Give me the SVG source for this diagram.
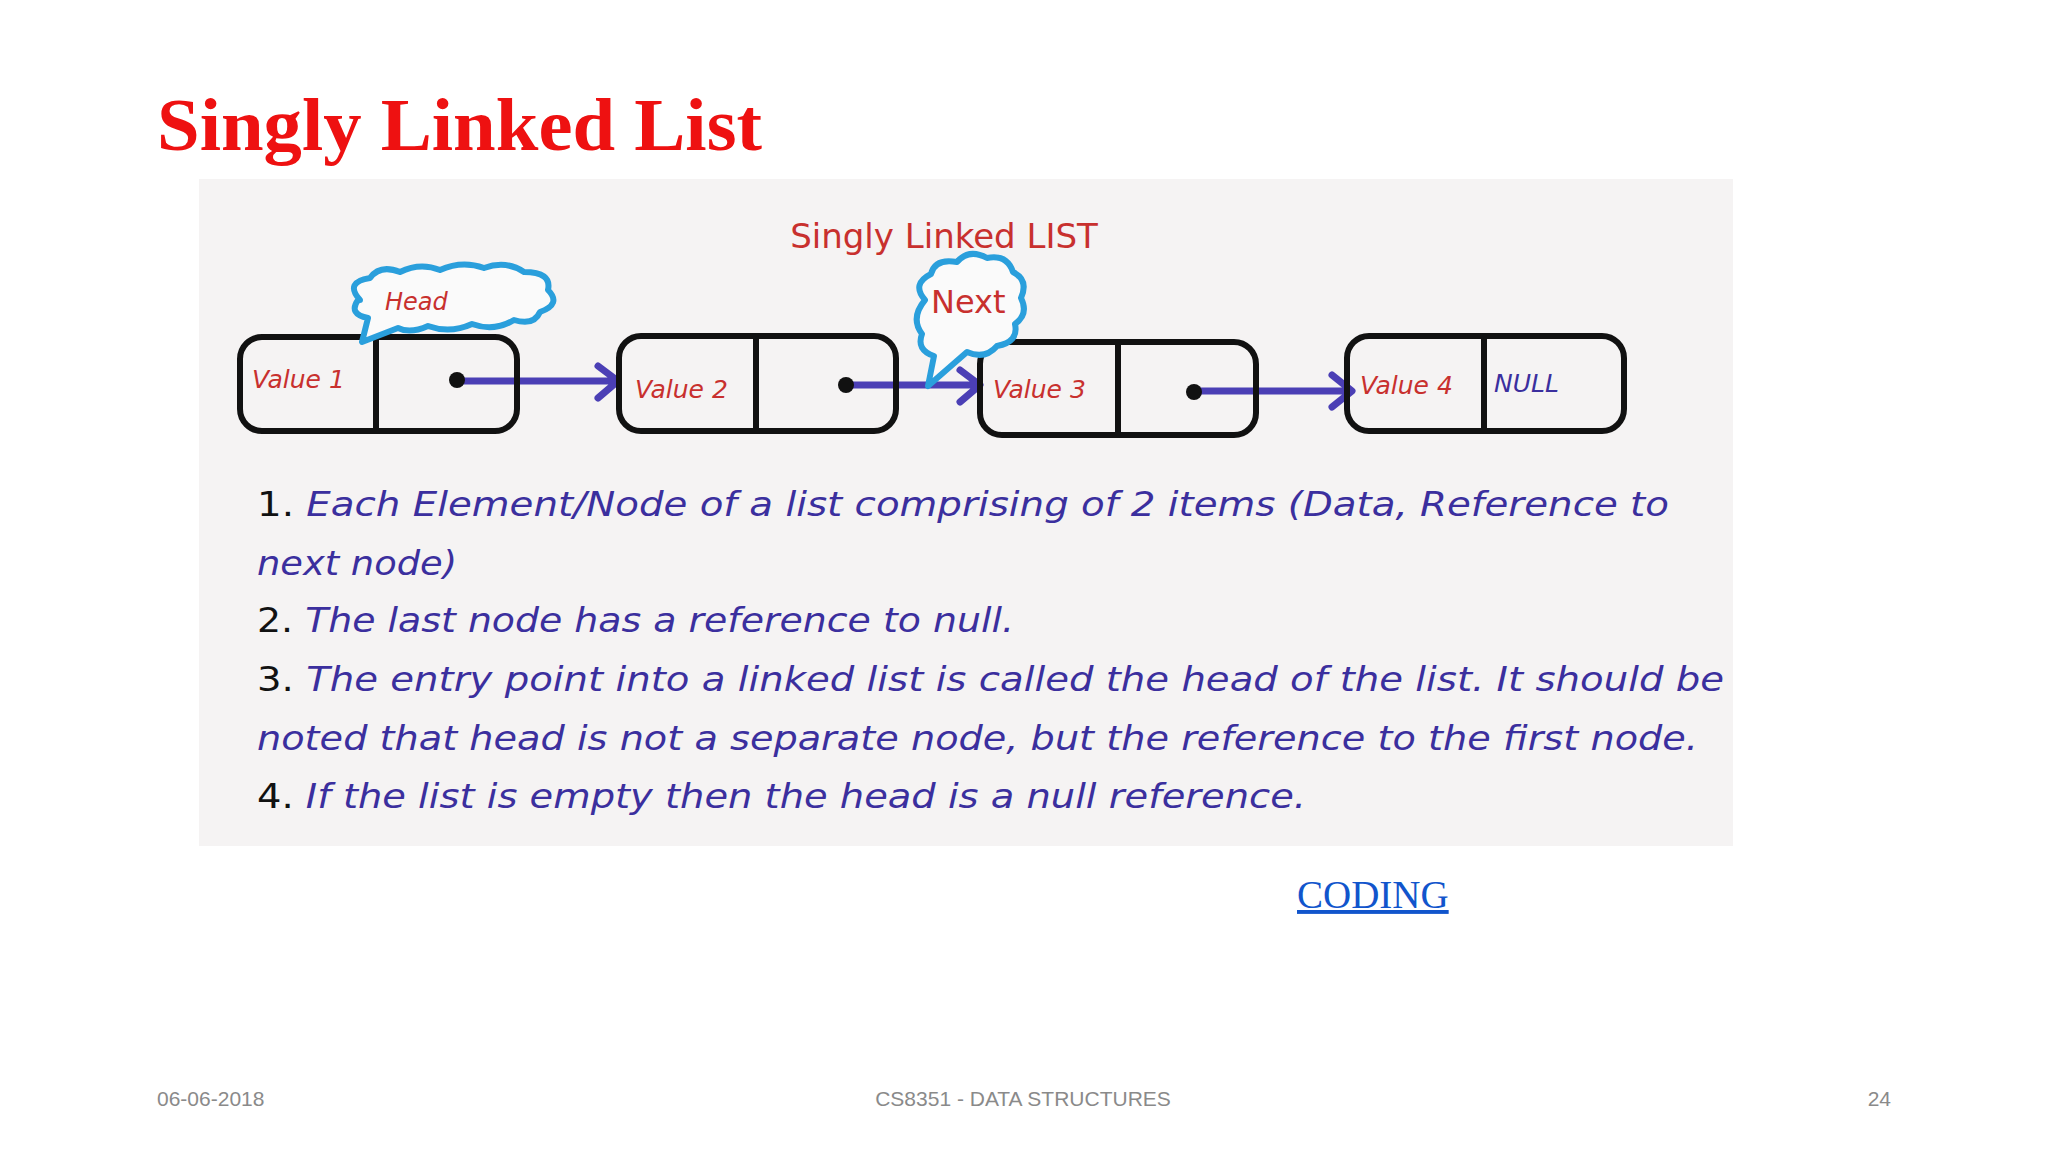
<svg xmlns="http://www.w3.org/2000/svg" width="2048" height="1152" viewBox="0 0 2048 1152">
<defs>
<style>
.box{fill:none;stroke:#111;stroke-width:6}
.val{font-family:"DejaVu Sans",sans-serif;font-style:italic;font-size:25px;fill:#c8302e}
.body{font-family:"DejaVu Sans",sans-serif;font-style:italic;font-size:34px;fill:#3b2f9e}
.num{fill:#111;font-style:normal}
.arr{stroke:#4b3fb5;stroke-width:7;fill:none;stroke-linecap:round;stroke-linejoin:round}
.cloud{fill:#fafafa;stroke:#2a9fdc;stroke-width:6;stroke-linejoin:round}
.foot{font-family:"Liberation Sans",sans-serif;font-size:21px;fill:#8a8a8a}
</style>
</defs>
<rect width="2048" height="1152" fill="#ffffff"/>
<text x="157" y="150" font-family="Liberation Serif,serif" font-weight="bold" font-size="73" fill="#ee1111" textLength="605" lengthAdjust="spacingAndGlyphs">Singly Linked List</text>
<rect x="199" y="179" width="1534" height="667" fill="#f5f3f3"/>
<text x="944" y="248" text-anchor="middle" font-family="DejaVu Sans,sans-serif" font-size="34" fill="#c8302e">Singly Linked LIST</text>

<g id="connectors">
<path class="arr" d="M460 381 H616 M598 366 L618 381 L598 398"/>
<path class="arr" d="M849 385 H978 M960 370 L980 385 L960 402"/>
<path class="arr" d="M1197 391 H1350 M1332 375 L1352 391 L1332 407"/>
</g>

<g id="node1">
<rect class="box" x="240" y="337" width="277" height="94" rx="22"/>
<line class="box" x1="376" y1="337" x2="376" y2="431"/>
<text class="val" x="252" y="388">Value 1</text>
<circle cx="457" cy="380" r="8" fill="#111"/>
</g>
<g id="node2">
<rect class="box" x="619" y="336" width="277" height="95" rx="22"/>
<line class="box" x1="756" y1="336" x2="756" y2="431"/>
<text class="val" x="635" y="398">Value 2</text>
<circle cx="846" cy="385" r="8" fill="#111"/>
</g>
<g id="node3">
<rect class="box" x="980" y="342" width="276" height="93" rx="22"/>
<line class="box" x1="1118" y1="342" x2="1118" y2="435"/>
<text class="val" x="993" y="398">Value 3</text>
<circle cx="1194" cy="392" r="8" fill="#111"/>
</g>
<g id="node4">
<rect class="box" x="1347" y="336" width="277" height="95" rx="22"/>
<line class="box" x1="1484" y1="336" x2="1484" y2="431"/>
<text class="val" x="1360" y="394">Value 4</text>
<text class="val" x="1494" y="392" style="fill:#3b2f9e">NULL</text>
</g>

<g id="head">
<path class="cloud" d="M360 300 q-16 -18 10 -22 q10 -14 30 -6 q20 -10 40 -2 q22 -10 44 -2 q22 -8 40 4 q28 0 24 18 q14 14 -8 22 q-6 14 -26 8 q-20 12 -42 4 q-22 10 -44 2 q-18 8 -30 2 L362 342 L368 318 q-20 -4 -10 -18 z"/>
<text x="385" y="310" font-family="DejaVu Sans,sans-serif" font-style="italic" font-size="24" fill="#c8302e">Head</text>
</g>
<g id="next">
<path class="cloud" d="M925 300 q-14 -16 6 -26 q4 -16 26 -12 q12 -14 30 -4 q20 -4 26 14 q16 8 8 26 q8 16 -6 26 q4 18 -18 22 q-12 14 -30 6 L928 386 L934 356 q-18 -6 -12 -22 q-12 -16 3 -34 z"/>
<text x="931" y="313" font-family="DejaVu Sans,sans-serif" font-size="32" fill="#c8302e">Next</text>
</g>

<g id="text">
<text class="body" x="257" y="516" textLength="1412" lengthAdjust="spacingAndGlyphs"><tspan class="num">1.</tspan> Each Element/Node of a list comprising of 2 items (Data, Reference to</text>
<text class="body" x="257" y="575" textLength="200" lengthAdjust="spacingAndGlyphs">next node)</text>
<text class="body" x="257" y="632" textLength="757" lengthAdjust="spacingAndGlyphs"><tspan class="num">2.</tspan> The last node has a reference to null.</text>
<text class="body" x="257" y="691" textLength="1467" lengthAdjust="spacingAndGlyphs"><tspan class="num">3.</tspan> The entry point into a linked list is called the head of the list. It should be</text>
<text class="body" x="257" y="750" textLength="1441" lengthAdjust="spacingAndGlyphs">noted that head is not a separate node, but the reference to the first node.</text>
<text class="body" x="257" y="808" textLength="1049" lengthAdjust="spacingAndGlyphs"><tspan class="num">4.</tspan> If the list is empty then the head is a null reference.</text>
</g>

<text x="1297" y="908" font-family="Liberation Serif,serif" font-size="39" fill="#1155cc" text-decoration="underline">CODING</text>
<text class="foot" x="157" y="1106">06-06-2018</text>
<text class="foot" x="1023" y="1106" text-anchor="middle">CS8351 - DATA STRUCTURES</text>
<text class="foot" x="1891" y="1106" text-anchor="end">24</text>
</svg>
